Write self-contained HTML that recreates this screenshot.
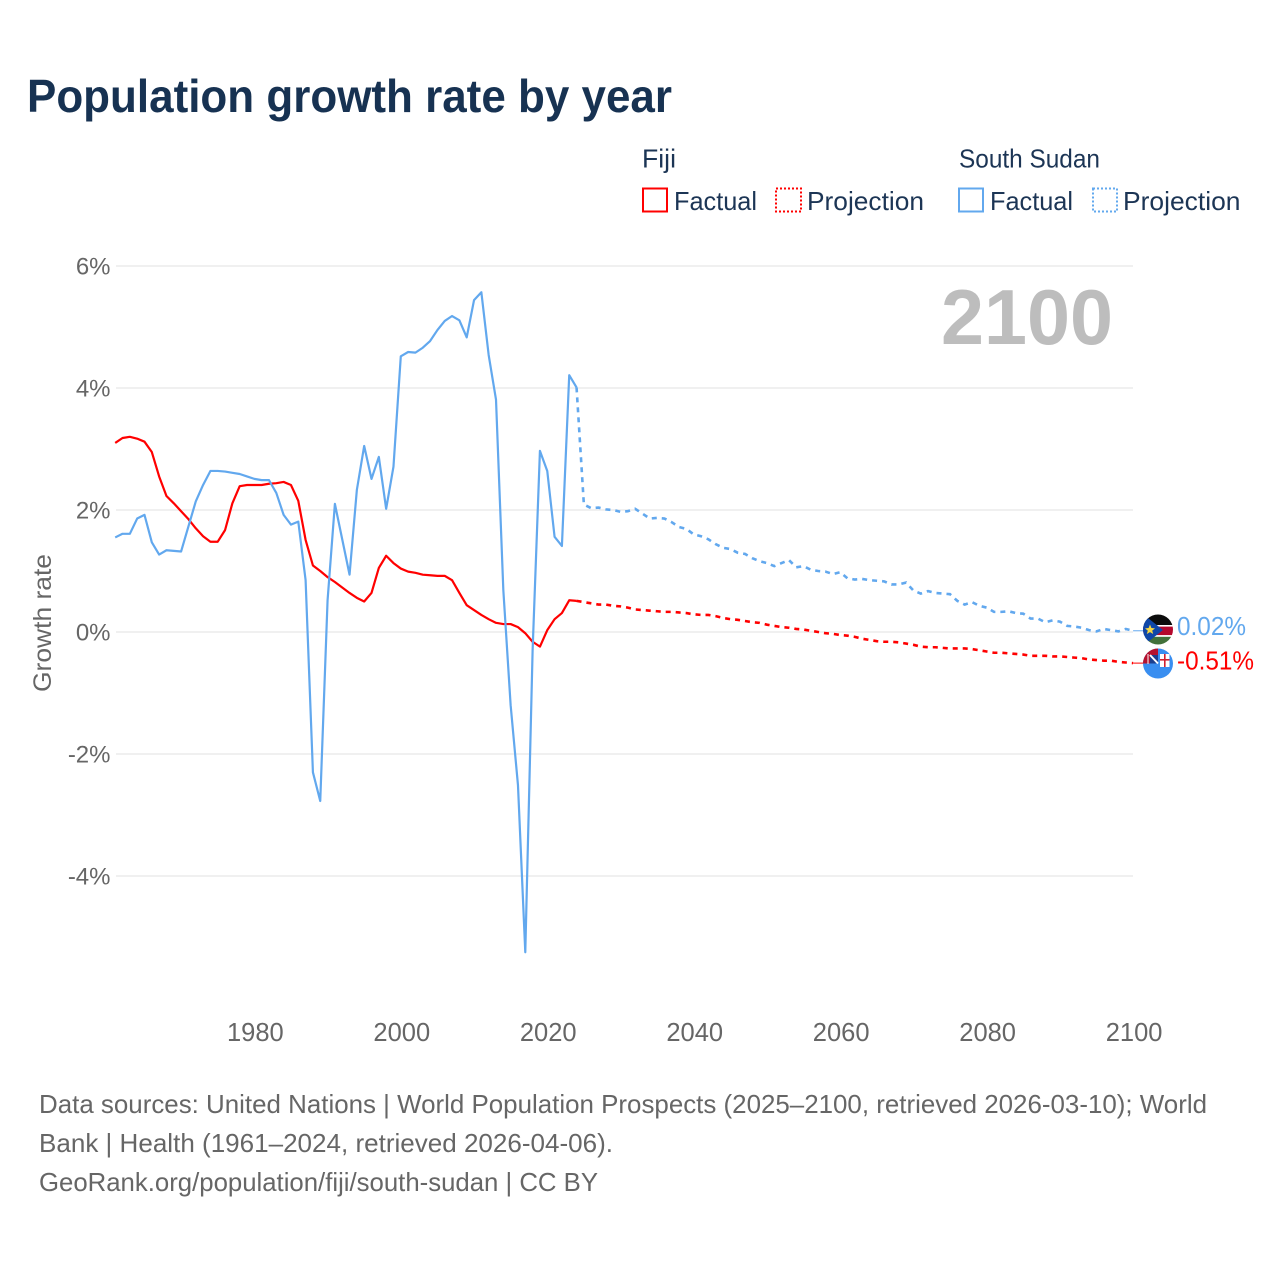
<!DOCTYPE html>
<html lang="en">
<head>
<meta charset="utf-8">
<title>Population growth rate by year</title>
<style>
html,body{margin:0;padding:0;background:#fff;width:1280px;height:1280px;overflow:hidden}
svg{display:block;font-family:"Liberation Sans",sans-serif}
</style>
</head>
<body>
<svg id="chart" width="1280" height="1280" viewBox="0 0 1280 1280" xmlns="http://www.w3.org/2000/svg">
  <rect x="0" y="0" width="1280" height="1280" fill="#fff"/>
  <text x="27" y="112" font-size="46" font-weight="700" fill="#173252" textLength="645" lengthAdjust="spacingAndGlyphs">Population growth rate by year</text>

  <g font-size="26" fill="#1c3555">
    <text x="642" y="167.5" textLength="34" lengthAdjust="spacingAndGlyphs">Fiji</text>
    <text x="959" y="167.5" textLength="141" lengthAdjust="spacingAndGlyphs">South Sudan</text>
    <rect x="643" y="188.5" width="24" height="23" fill="none" stroke="#ff0000" stroke-width="2"/>
    <text x="674" y="210" textLength="83" lengthAdjust="spacingAndGlyphs">Factual</text>
    <rect x="776" y="188.5" width="25" height="23" fill="none" stroke="#ff0000" stroke-width="2" stroke-dasharray="2 2"/>
    <text x="807" y="210" textLength="117" lengthAdjust="spacingAndGlyphs">Projection</text>
    <rect x="959" y="188.5" width="24" height="23" fill="none" stroke="#62a8ee" stroke-width="2"/>
    <text x="990" y="210" textLength="83" lengthAdjust="spacingAndGlyphs">Factual</text>
    <rect x="1093" y="188.5" width="24" height="23" fill="none" stroke="#62a8ee" stroke-width="2" stroke-dasharray="2 2"/>
    <text x="1123" y="210" textLength="117.5" lengthAdjust="spacingAndGlyphs">Projection</text>
  </g>

  <g id="grid"></g>
  <g id="y-ticks"></g>
  <g id="x-ticks"></g>

  <text transform="translate(51,692) rotate(-90)" font-size="25" fill="#666" textLength="138" lengthAdjust="spacingAndGlyphs">Growth rate</text>
  <text x="941" y="344" font-size="78" font-weight="700" fill="#bdbdbd" textLength="172" lengthAdjust="spacingAndGlyphs">2100</text>

  <g id="series"></g>

  <defs>
    <clipPath id="clip-ss"><circle cx="1158" cy="629.5" r="15"/></clipPath>
    <clipPath id="clip-fj"><circle cx="1158" cy="663.5" r="15"/></clipPath>
  </defs>

  <g clip-path="url(#clip-ss)">
    <rect x="1143" y="614" width="30" height="11" fill="#0c0c0c"/>
    <rect x="1143" y="625" width="30" height="1.6" fill="#fff"/>
    <rect x="1143" y="626.6" width="30" height="8.6" fill="#b4082d"/>
    <rect x="1143" y="635.2" width="30" height="1.6" fill="#fff"/>
    <rect x="1143" y="636.8" width="30" height="9" fill="#42713a"/>
    <polygon points="1143,614 1163,630 1143,646" fill="#0f47a8"/>
    <polygon points="1150,624.5 1151.4,628 1155,628.4 1152.2,630.6 1153.2,634 1150,632.1 1146.8,634 1147.8,630.6 1145,628.4 1148.6,628" fill="#f6d743"/>
  </g>

  <g clip-path="url(#clip-fj)">
    <rect x="1143" y="648" width="30" height="31" fill="#398ef0"/>
    <rect x="1143" y="648" width="15" height="15.5" fill="#b5122e"/>
    <rect x="1150" y="655" width="8" height="8.5" fill="#1c3f8f"/>
    <line x1="1150" y1="655" x2="1158" y2="663.5" stroke="#fff" stroke-width="2"/>
    <line x1="1148" y1="654" x2="1148" y2="664" stroke="#fff" stroke-width="1"/>
    <rect x="1160" y="654" width="9.5" height="13" fill="#fff"/>
    <rect x="1164" y="654" width="1.6" height="13" fill="#d2202f"/>
    <rect x="1160" y="659" width="9.5" height="1.6" fill="#d2202f"/>
  </g>

  <text x="1177" y="635" font-size="26" fill="#62a8ee" textLength="69" lengthAdjust="spacingAndGlyphs">0.02%</text>
  <text x="1177" y="669.5" font-size="26" fill="#ff0000" textLength="77" lengthAdjust="spacingAndGlyphs">-0.51%</text>

  <g font-size="26" fill="#666">
    <text x="39" y="1113" textLength="1168" lengthAdjust="spacingAndGlyphs">Data sources: United Nations | World Population Prospects (2025–2100, retrieved 2026-03-10); World</text>
    <text x="39" y="1152" textLength="574" lengthAdjust="spacingAndGlyphs">Bank | Health (1961–2024, retrieved 2026-04-06).</text>
    <text x="39" y="1191" textLength="559" lengthAdjust="spacingAndGlyphs">GeoRank.org/population/fiji/south-sudan | CC BY</text>
  </g>
</svg>

<script>
const firstYear = 1961;
const lastFactualYear = 2024;
const yTickValues = [6, 4, 2, 0, -2, -4];
const yTickLabels = ["6%", "4%", "2%", "0%", "-2%", "-4%"];
const xTickYears = [1980, 2000, 2020, 2040, 2060, 2080, 2100];

const fijiFactual = [
  3.10,3.18,3.20,3.17,3.12,2.95,2.55,2.23,2.11,1.98,
  1.85,1.70,1.57,1.48,1.48,1.67,2.11,2.39,2.41,2.41,
  2.41,2.43,2.44,2.46,2.41,2.15,1.51,1.09,1.00,0.90,
  0.82,0.73,0.64,0.56,0.50,0.64,1.05,1.25,1.13,1.04,
  0.99,0.97,0.94,0.93,0.92,0.92,0.85,0.64,0.44,0.36,
  0.28,0.21,0.15,0.13,0.13,0.08,-0.02,-0.16,-0.24,0.03,
  0.21,0.31,0.52,0.51
];
const fijiProjection = [
  0.49,0.47,0.45,0.45,0.43,0.42,0.40,0.37,0.36,0.35,
  0.34,0.33,0.33,0.32,0.31,0.29,0.28,0.28,0.26,0.23,
  0.21,0.20,0.18,0.16,0.15,0.12,0.10,0.08,0.07,0.05,
  0.04,0.02,0.00,-0.02,-0.03,-0.05,-0.06,-0.08,-0.11,-0.13,
  -0.15,-0.16,-0.16,-0.17,-0.19,-0.21,-0.24,-0.25,-0.25,-0.26,
  -0.27,-0.27,-0.27,-0.28,-0.30,-0.32,-0.34,-0.34,-0.35,-0.36,
  -0.37,-0.39,-0.39,-0.39,-0.40,-0.40,-0.41,-0.42,-0.43,-0.45,
  -0.46,-0.47,-0.47,-0.49,-0.50,-0.51
];
const southSudanFactual = [
  1.55,1.61,1.61,1.86,1.92,1.47,1.27,1.34,1.33,1.32,
  1.73,2.14,2.41,2.64,2.64,2.63,2.61,2.59,2.55,2.51,
  2.49,2.49,2.28,1.92,1.76,1.81,0.85,-2.30,-2.77,0.52,
  2.10,1.52,0.94,2.33,3.05,2.51,2.87,2.02,2.71,4.52,
  4.59,4.58,4.66,4.77,4.95,5.10,5.18,5.11,4.83,5.44,
  5.57,4.54,3.81,0.69,-1.20,-2.51,-5.25,-0.30,2.97,2.64,
  1.56,1.41,4.21,4.01
];
const southSudanProjection = [
  2.09,2.03,2.04,2.01,2.00,1.97,1.98,2.02,1.94,1.86,
  1.87,1.86,1.80,1.72,1.69,1.60,1.57,1.52,1.44,1.38,
  1.36,1.30,1.28,1.21,1.16,1.13,1.08,1.13,1.18,1.06,
  1.08,1.02,1.00,0.99,0.95,0.98,0.88,0.86,0.87,0.85,
  0.84,0.83,0.78,0.78,0.81,0.68,0.63,0.67,0.64,0.63,
  0.62,0.51,0.45,0.49,0.43,0.40,0.33,0.33,0.34,0.31,
  0.30,0.22,0.22,0.16,0.19,0.17,0.10,0.09,0.07,0.03,
  0.01,0.05,0.03,0.01,0.05,0.02
];

const SVG_NS = "http://www.w3.org/2000/svg";
const xScale = function (year) { return 115.2 + (year - 1961) * 7.323; };
const yScale = function (value) { return 632 - value * 61; };

const gridGroup = document.getElementById("grid");
const yTickGroup = document.getElementById("y-ticks");
const xTickGroup = document.getElementById("x-ticks");
const seriesGroup = document.getElementById("series");

yTickValues.forEach(function (value, i) {
  const line = document.createElementNS(SVG_NS, "line");
  
  
  line.setAttribute("x1", 116);
  line.setAttribute("x2", 1133);
  line.setAttribute("y1", yScale(value));
  line.setAttribute("y2", yScale(value));
  line.setAttribute("stroke", "#ebebeb");
  line.setAttribute("stroke-width", "1.5");
  gridGroup.appendChild(line);

  const label = document.createElementNS(SVG_NS, "text");
  
  
  label.setAttribute("x", 110.5);
  label.setAttribute("y", yScale(value) + 8.5);
  label.setAttribute("text-anchor", "end");
  label.setAttribute("font-size", "24");
  label.setAttribute("fill", "#666");
  label.textContent = yTickLabels[i];
  yTickGroup.appendChild(label);
});

xTickYears.forEach(function (year) {
  const label = document.createElementNS(SVG_NS, "text");
  
  
  label.setAttribute("x", xScale(year) + 1);
  label.setAttribute("y", 1041);
  label.setAttribute("text-anchor", "middle");
  label.setAttribute("font-size", "25.5");
  label.setAttribute("fill", "#666");
  label.textContent = String(year);
  xTickGroup.appendChild(label);
});

function factualPoints(values) {
  return values.map(function (v, i) {
    return xScale(firstYear + i).toFixed(2) + "," + yScale(v).toFixed(2);
  }).join(" ");
}

function projectionPoints(factual, projected) {
  const start = [xScale(lastFactualYear).toFixed(2) + "," + yScale(factual[factual.length - 1]).toFixed(2)];
  return start.concat(projected.map(function (v, i) {
    return xScale(lastFactualYear + 1 + i).toFixed(2) + "," + yScale(v).toFixed(2);
  })).join(" ");
}

function drawFactual(points, color) {
  const el = document.createElementNS(SVG_NS, "polyline");
  el.setAttribute("points", points);
  el.setAttribute("fill", "none");
  el.setAttribute("stroke", color);
  el.setAttribute("stroke-width", "2.2");
  el.setAttribute("stroke-linejoin", "round");
  seriesGroup.appendChild(el);
  return el;
}

function drawProjection(points, color) {
  const el = document.createElementNS(SVG_NS, "polyline");
  el.setAttribute("points", points);
  el.setAttribute("fill", "none");
  el.setAttribute("stroke", color);
  el.setAttribute("stroke-width", "2.6");
  el.setAttribute("stroke-dasharray", "5 5");
  seriesGroup.appendChild(el);
  return el;
}

function drawLeader(value, color) {
  const el = document.createElementNS(SVG_NS, "line");
  el.setAttribute("x1", xScale(2100));
  el.setAttribute("x2", 1144);
  el.setAttribute("y1", yScale(value));
  el.setAttribute("y2", yScale(value));
  el.setAttribute("stroke", color);
  el.setAttribute("stroke-width", "1");
  seriesGroup.appendChild(el);
  return el;
}

const fijiFactualLine = drawFactual(factualPoints(fijiFactual), "#ff0000");



const fijiProjectionLine = drawProjection(projectionPoints(fijiFactual, fijiProjection), "#ff0000");



const fijiLeader = drawLeader(fijiProjection[fijiProjection.length - 1], "#ff0000");



const southSudanFactualLine = drawFactual(factualPoints(southSudanFactual), "#62a8ee");



const southSudanProjectionLine = drawProjection(projectionPoints(southSudanFactual, southSudanProjection), "#62a8ee");



const southSudanLeader = drawLeader(southSudanProjection[southSudanProjection.length - 1], "#62a8ee");


</script>
</body>
</html>
